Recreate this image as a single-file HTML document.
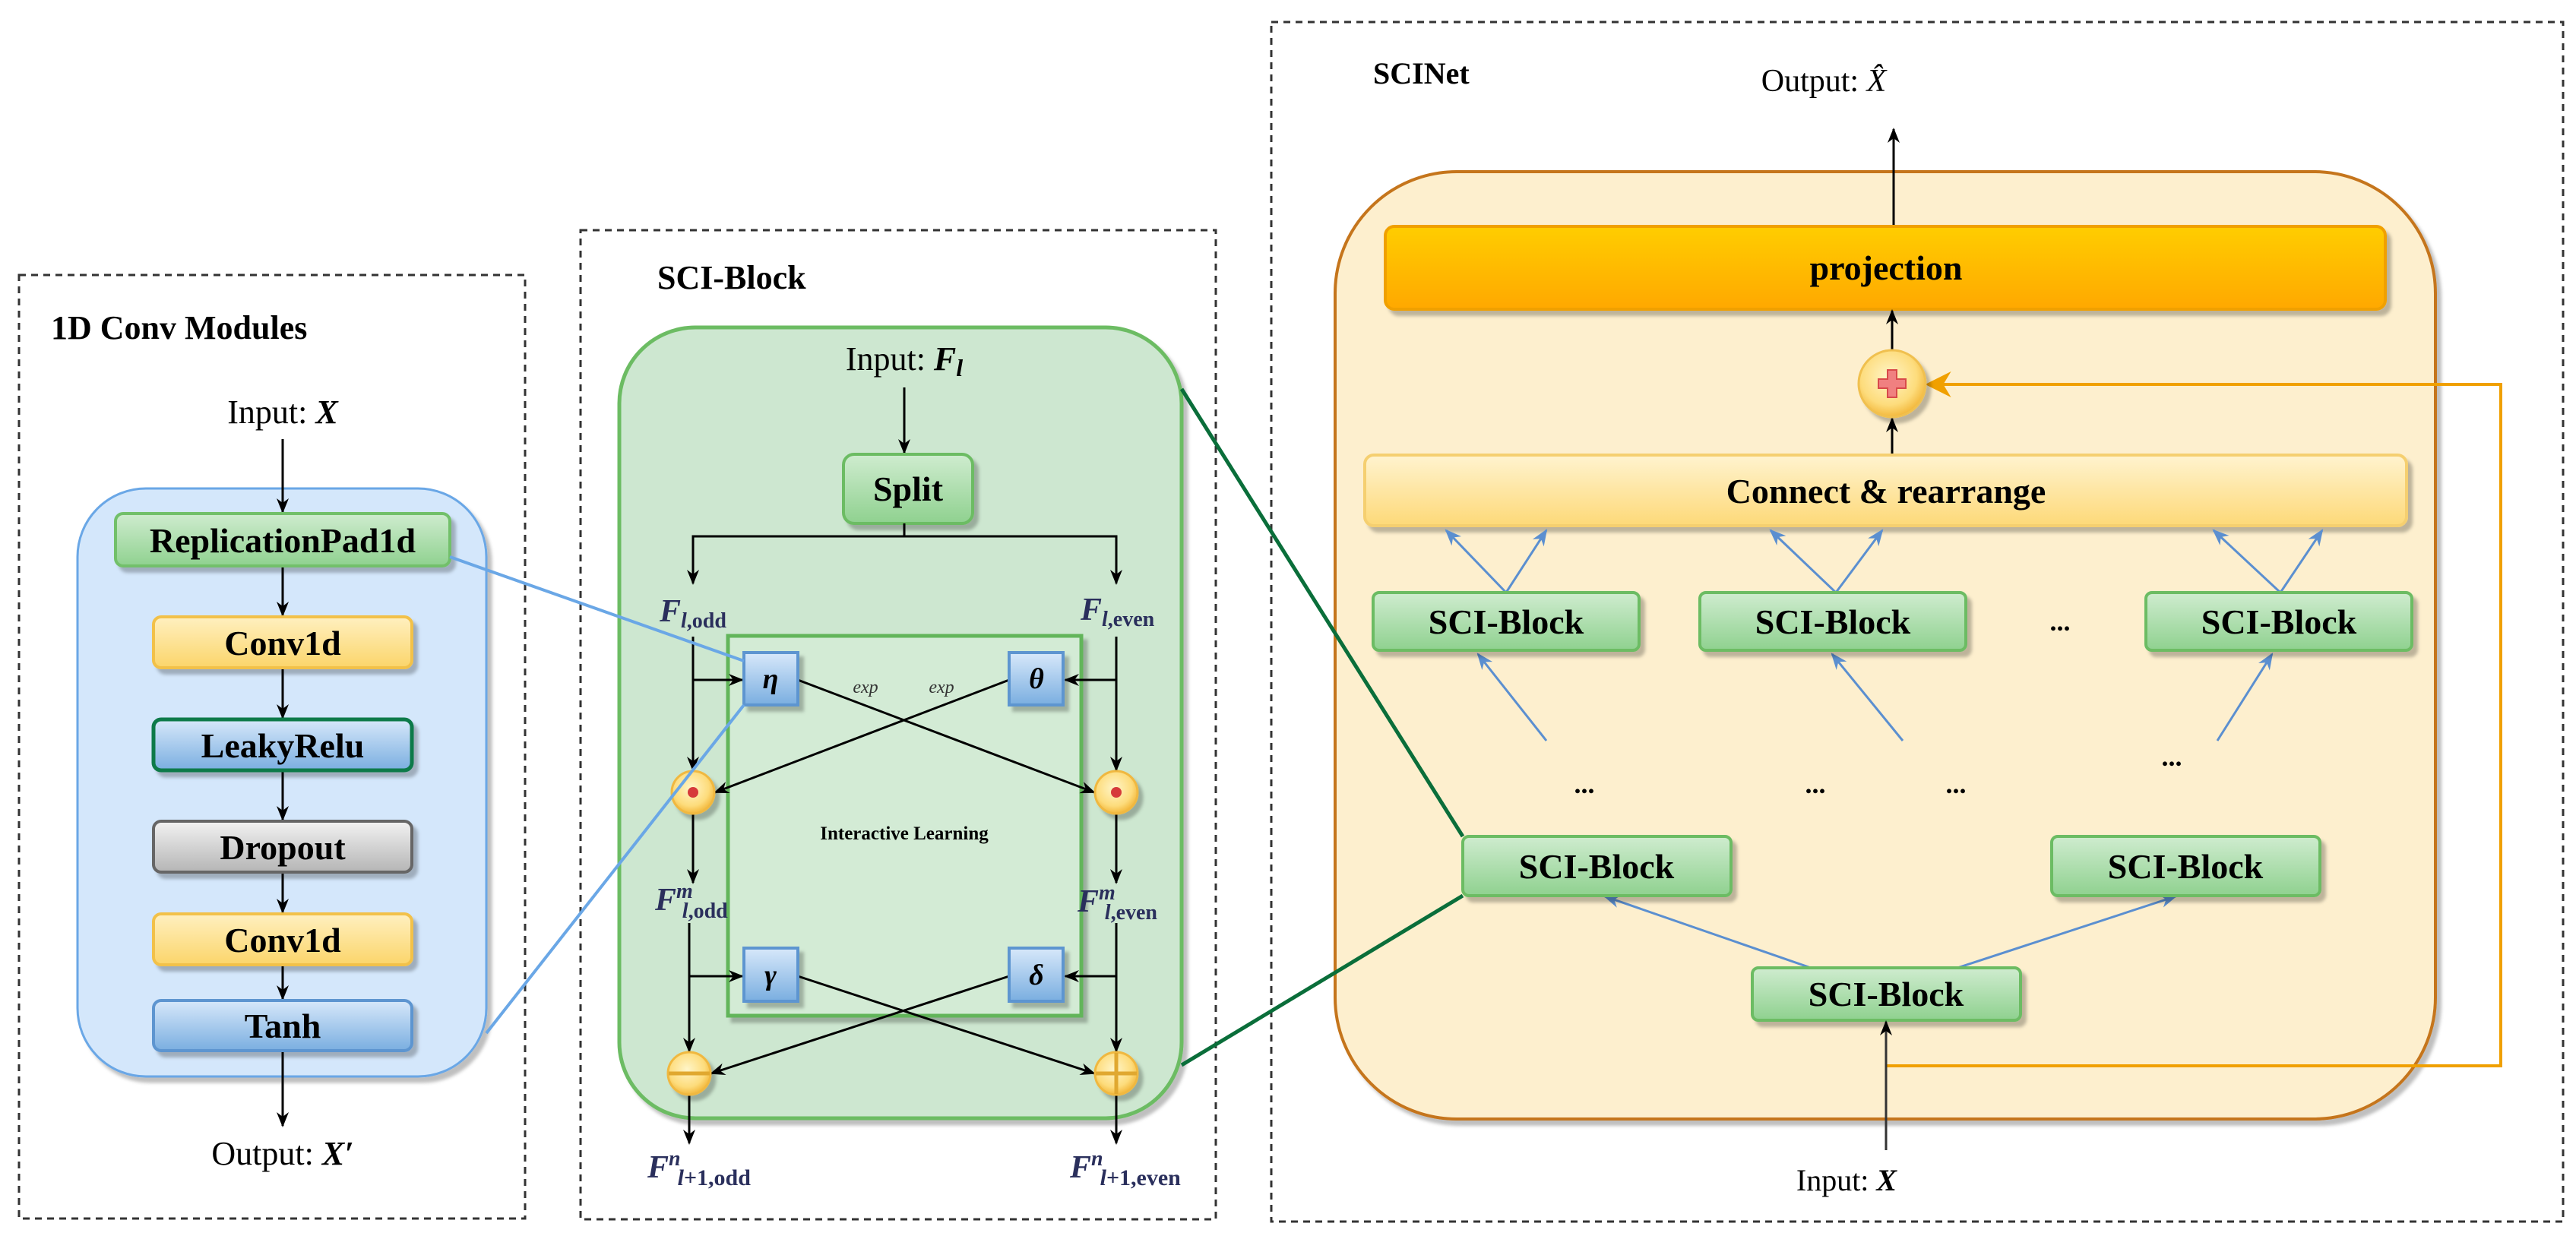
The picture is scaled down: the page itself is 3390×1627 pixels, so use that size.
<!DOCTYPE html>
<html><head><meta charset="utf-8"><style>
html,body{margin:0;padding:0;background:#fff}
svg{display:block}
text{font-family:"Liberation Serif",serif}
.b{font-weight:bold}
.lab{fill:#2a2f5c;font-style:italic;font-weight:bold}
.n{font-style:normal}
</style></head><body>
<svg width="3390" height="1627" viewBox="0 0 3390 1627" xmlns="http://www.w3.org/2000/svg">
<defs>
<linearGradient id="gG" x1="0" y1="0" x2="0" y2="1"><stop offset="0" stop-color="#cfeccf"/><stop offset="1" stop-color="#8fd18f"/></linearGradient>
<linearGradient id="gY" x1="0" y1="0" x2="0" y2="1"><stop offset="0" stop-color="#fff0c0"/><stop offset="1" stop-color="#fbd56a"/></linearGradient>
<linearGradient id="gB" x1="0" y1="0" x2="0" y2="1"><stop offset="0" stop-color="#d7e8fa"/><stop offset="1" stop-color="#7aaee0"/></linearGradient>
<linearGradient id="gD" x1="0" y1="0" x2="0" y2="1"><stop offset="0" stop-color="#f2f2f2"/><stop offset="1" stop-color="#b5b5b5"/></linearGradient>
<linearGradient id="gP" x1="0" y1="0" x2="0" y2="1"><stop offset="0" stop-color="#ffcd00"/><stop offset="1" stop-color="#ffa800"/></linearGradient>
<linearGradient id="gC" x1="0" y1="0" x2="0" y2="1"><stop offset="0" stop-color="#fff3cf"/><stop offset="1" stop-color="#fdd978"/></linearGradient>
<radialGradient id="gO" cx="0.45" cy="0.4" r="0.6"><stop offset="0" stop-color="#fff5c8"/><stop offset="0.7" stop-color="#fddc7c"/><stop offset="1" stop-color="#f3b83c"/></radialGradient>
<marker id="a" viewBox="0 0 10 10" refX="9" refY="5" markerWidth="20" markerHeight="20" orient="auto" markerUnits="userSpaceOnUse"><path d="M0,1 L10,5 L0,9 L3,5z" fill="#000"/></marker>
<marker id="ab" viewBox="0 0 10 10" refX="9" refY="5" markerWidth="22" markerHeight="22" orient="auto" markerUnits="userSpaceOnUse"><path d="M0,1 L10,5 L0,9 L3,5z" fill="#5b8fd0"/></marker>
<marker id="ao" viewBox="0 0 10 10" refX="9" refY="5" markerWidth="34" markerHeight="34" orient="auto" markerUnits="userSpaceOnUse"><path d="M0,0 L10,5 L0,10 L3,5z" fill="#f0a000"/></marker>
<filter id="sh" x="-10%" y="-10%" width="130%" height="140%"><feDropShadow dx="6" dy="7" stdDeviation="2" flood-color="#000" flood-opacity="0.25"/></filter>
</defs>

<!-- ============ Panel 1 ============ -->
<rect x="25" y="362" width="666" height="1242" fill="none" stroke="#333" stroke-width="3" stroke-dasharray="9,7"/>
<text x="67" y="446" class="b" font-size="44">1D Conv Modules</text>
<text x="372" y="557" font-size="44" text-anchor="middle">Input: <tspan font-style="italic" font-weight="bold">X</tspan></text>
<rect x="102" y="643" width="538" height="774" rx="90" fill="#d4e7fb" stroke="#6aa7e6" stroke-width="3" filter="url(#sh)"/>
<g stroke="#000" stroke-width="3">
<line x1="372" y1="578" x2="372" y2="674" marker-end="url(#a)"/>
<line x1="372" y1="745" x2="372" y2="810" marker-end="url(#a)"/>
<line x1="372" y1="879" x2="372" y2="945" marker-end="url(#a)"/>
<line x1="372" y1="1014" x2="372" y2="1079" marker-end="url(#a)"/>
<line x1="372" y1="1148" x2="372" y2="1201" marker-end="url(#a)"/>
<line x1="372" y1="1270" x2="372" y2="1315" marker-end="url(#a)"/>
<line x1="372" y1="1383" x2="372" y2="1482" marker-end="url(#a)"/>
</g>
<g filter="url(#sh)">
<rect x="152" y="676" width="440" height="69" rx="10" fill="url(#gG)" stroke="#72c06a" stroke-width="4"/>
<rect x="202" y="812" width="340" height="67" rx="10" fill="url(#gY)" stroke="#f2c14a" stroke-width="4"/>
<rect x="202" y="947" width="340" height="67" rx="10" fill="url(#gB)" stroke="#0e7a4a" stroke-width="5"/>
<rect x="202" y="1081" width="340" height="67" rx="10" fill="url(#gD)" stroke="#666" stroke-width="4"/>
<rect x="202" y="1203" width="340" height="67" rx="10" fill="url(#gY)" stroke="#f2c14a" stroke-width="4"/>
<rect x="202" y="1317" width="340" height="66" rx="10" fill="url(#gB)" stroke="#5d95d0" stroke-width="4"/>
</g>
<g class="b" font-size="46" text-anchor="middle">
<text x="372" y="727">ReplicationPad1d</text>
<text x="372" y="862">Conv1d</text>
<text x="372" y="997">LeakyRelu</text>
<text x="372" y="1131">Dropout</text>
<text x="372" y="1253">Conv1d</text>
<text x="372" y="1366">Tanh</text>
</g>
<text x="372" y="1533" font-size="44" text-anchor="middle">Output: <tspan font-style="italic" font-weight="bold">X′</tspan></text>

<!-- ============ Panel 2 ============ -->
<rect x="764" y="303" width="836" height="1302" fill="none" stroke="#333" stroke-width="3" stroke-dasharray="9,7"/>
<text x="865" y="380" class="b" font-size="44">SCI-Block</text>
<rect x="815" y="431" width="740" height="1041" rx="100" fill="#cde7d0" stroke="#6cbc63" stroke-width="5" filter="url(#sh)"/>
<text x="1190" y="487" font-size="44" text-anchor="middle">Input: <tspan font-style="italic" font-weight="bold">F<tspan font-size="32" dy="8">l</tspan></tspan></text>
<line x1="1190" y1="510" x2="1190" y2="596" stroke="#000" stroke-width="3" marker-end="url(#a)"/>
<rect x="1110" y="598" width="170" height="91" rx="14" fill="url(#gG)" stroke="#6cbc63" stroke-width="4" filter="url(#sh)"/>
<text x="1195" y="659" class="b" font-size="46" text-anchor="middle">Split</text>
<g stroke="#000" stroke-width="3" fill="none">
<polyline points="1190,689 1190,706 912,706 912,768" marker-end="url(#a)"/>
<polyline points="1190,706 1469,706 1469,768" marker-end="url(#a)"/>
</g>
<text x="868" y="818" class="lab" font-size="42">F<tspan font-size="28" dy="8">l</tspan><tspan class="n" font-size="28">,odd</tspan></text>
<text x="1422" y="816" class="lab" font-size="42">F<tspan font-size="28" dy="8">l</tspan><tspan class="n" font-size="28">,even</tspan></text>
<rect x="958" y="837" width="465" height="500" fill="#d3ebd5" stroke="#62b55a" stroke-width="5" filter="url(#sh)"/>
<text x="1190" y="1105" class="b" font-size="25" text-anchor="middle">Interactive Learning</text>
<text x="1139" y="912" font-size="24" font-style="italic" text-anchor="middle" fill="#333">exp</text>
<text x="1239" y="912" font-size="24" font-style="italic" text-anchor="middle" fill="#333">exp</text>
<g stroke="#000" stroke-width="3" fill="none">
<line x1="912" y1="838" x2="912" y2="1014" marker-end="url(#a)"/>
<line x1="1469" y1="838" x2="1469" y2="1014" marker-end="url(#a)"/>
<line x1="912" y1="895" x2="977" y2="895" marker-end="url(#a)"/>
<line x1="1469" y1="895" x2="1402" y2="895" marker-end="url(#a)"/>
<line x1="1050" y1="895" x2="1440" y2="1043" marker-end="url(#a)"/>
<line x1="1328" y1="895" x2="941" y2="1043" marker-end="url(#a)"/>
<line x1="912" y1="1071" x2="912" y2="1162" marker-end="url(#a)"/>
<line x1="1469" y1="1071" x2="1469" y2="1162" marker-end="url(#a)"/>
<line x1="907" y1="1215" x2="907" y2="1384" marker-end="url(#a)"/>
<line x1="1469" y1="1215" x2="1469" y2="1384" marker-end="url(#a)"/>
<line x1="907" y1="1285" x2="977" y2="1285" marker-end="url(#a)"/>
<line x1="1469" y1="1285" x2="1402" y2="1285" marker-end="url(#a)"/>
<line x1="1050" y1="1285" x2="1440" y2="1413" marker-end="url(#a)"/>
<line x1="1328" y1="1285" x2="936" y2="1413" marker-end="url(#a)"/>
<line x1="907" y1="1441" x2="907" y2="1505" marker-end="url(#a)"/>
<line x1="1469" y1="1441" x2="1469" y2="1505" marker-end="url(#a)"/>
</g>
<g filter="url(#sh)" stroke="#5d95d0" stroke-width="4" fill="url(#gB)">
<rect x="979" y="859" width="71" height="69"/>
<rect x="1328" y="859" width="71" height="69"/>
<rect x="979" y="1248" width="71" height="70"/>
<rect x="1328" y="1248" width="71" height="70"/>
</g>
<g class="b" font-size="38" font-style="italic" text-anchor="middle">
<text x="1014" y="906">η</text><text x="1364" y="906">θ</text>
<text x="1014" y="1296">γ</text><text x="1364" y="1296">δ</text>
</g>
<g filter="url(#sh)" fill="url(#gO)" stroke="#f0b840" stroke-width="3">
<circle cx="912" cy="1043" r="28"/><circle cx="1469" cy="1043" r="28"/>
<circle cx="907" cy="1413" r="28"/><circle cx="1469" cy="1413" r="28"/>
</g>
<circle cx="912" cy="1043" r="7" fill="#d63a3a"/><circle cx="1469" cy="1043" r="7" fill="#d63a3a"/>
<line x1="880" y1="1413" x2="934" y2="1413" stroke="#e0a830" stroke-width="5"/>
<line x1="1442" y1="1413" x2="1496" y2="1413" stroke="#e0a830" stroke-width="5"/>
<line x1="1469" y1="1386" x2="1469" y2="1440" stroke="#e0a830" stroke-width="5"/>
<text x="862" y="1198" class="lab" font-size="42">F<tspan font-size="28" dy="-16">m</tspan><tspan font-size="28" dy="26" dx="-14">l</tspan><tspan class="n" font-size="28">,odd</tspan></text>
<text x="1418" y="1200" class="lab" font-size="42">F<tspan font-size="28" dy="-16">m</tspan><tspan font-size="28" dy="26" dx="-14">l</tspan><tspan class="n" font-size="28">,even</tspan></text>
<text x="852" y="1550" class="lab" font-size="42">F<tspan font-size="28" dy="-16">n</tspan><tspan font-size="30" dy="26" dx="-4">l</tspan><tspan class="n" font-size="30">+1,odd</tspan></text>
<text x="1408" y="1550" class="lab" font-size="42">F<tspan font-size="28" dy="-16">n</tspan><tspan font-size="30" dy="26" dx="-4">l</tspan><tspan class="n" font-size="30">+1,even</tspan></text>

<!-- connectors blue -->
<g stroke="#6aa7e6" stroke-width="4" fill="none">
<line x1="592" y1="733" x2="979" y2="870"/>
<line x1="640" y1="1360" x2="979" y2="928"/>
</g>

<!-- ============ Panel 3 ============ -->
<rect x="1673" y="29" width="1700" height="1579" fill="none" stroke="#333" stroke-width="3" stroke-dasharray="9,7"/>
<text x="1807" y="110" class="b" font-size="40">SCINet</text>
<text x="2400" y="120" font-size="42" text-anchor="middle">Output: <tspan font-style="italic">X̂</tspan></text>
<rect x="1757" y="226" width="1448" height="1247" rx="160" fill="#fdefce" stroke="#c5741a" stroke-width="4" filter="url(#sh)"/>
<line x1="2492" y1="301" x2="2492" y2="170" stroke="#000" stroke-width="3" marker-end="url(#a)"/>
<rect x="1823" y="298" width="1316" height="109" rx="12" fill="url(#gP)" stroke="#f0a000" stroke-width="4" filter="url(#sh)"/>
<text x="2482" y="368" class="b" font-size="46" text-anchor="middle">projection</text>
<line x1="2490" y1="460" x2="2490" y2="409" stroke="#000" stroke-width="3" marker-end="url(#a)"/>
<line x1="2490" y1="597" x2="2490" y2="551" stroke="#000" stroke-width="3" marker-end="url(#a)"/>
<polyline points="2483,1403 3291,1403 3291,506 2537,506" fill="none" stroke="#f0a000" stroke-width="4" marker-end="url(#ao)"/>
<circle cx="2490" cy="505" r="44" fill="url(#gO)" stroke="#f0c050" stroke-width="3" filter="url(#sh)"/>
<path d="M2484,487 h12 v12 h12 v12 h-12 v12 h-12 v-12 h-12 v-12 h12z" fill="#f08080" stroke="#d84a4a" stroke-width="2"/>
<rect x="1796" y="599" width="1371" height="93" rx="12" fill="url(#gC)" stroke="#f5cf70" stroke-width="4" filter="url(#sh)"/>
<text x="2482" y="662" class="b" font-size="46" text-anchor="middle">Connect &amp; rearrange</text>

<g stroke="#5b8fd0" stroke-width="3" fill="none">
<line x1="1982" y1="780" x2="1903" y2="698" marker-end="url(#ab)"/>
<line x1="1982" y1="780" x2="2035" y2="698" marker-end="url(#ab)"/>
<line x1="2416" y1="780" x2="2330" y2="698" marker-end="url(#ab)"/>
<line x1="2416" y1="780" x2="2477" y2="698" marker-end="url(#ab)"/>
<line x1="3001" y1="780" x2="2913" y2="698" marker-end="url(#ab)"/>
<line x1="3001" y1="780" x2="3056" y2="698" marker-end="url(#ab)"/>
<line x1="2035" y1="975" x2="1945" y2="861" marker-end="url(#ab)"/>
<line x1="2504" y1="975" x2="2411" y2="861" marker-end="url(#ab)"/>
<line x1="2918" y1="975" x2="2990" y2="861" marker-end="url(#ab)"/>
<line x1="2383" y1="1274" x2="2112" y2="1180" marker-end="url(#ab)"/>
<line x1="2576" y1="1274" x2="2863" y2="1180" marker-end="url(#ab)"/>
</g>
<g filter="url(#sh)" fill="url(#gG)" stroke="#6cbc63" stroke-width="4">
<rect x="1807" y="780" width="350" height="76" rx="8"/>
<rect x="2237" y="780" width="350" height="76" rx="8"/>
<rect x="2824" y="780" width="350" height="76" rx="8"/>
<rect x="1925" y="1101" width="353" height="78" rx="8"/>
<rect x="2700" y="1101" width="353" height="78" rx="8"/>
<rect x="2306" y="1274" width="353" height="69" rx="8"/>
</g>
<g class="b" font-size="46" text-anchor="middle">
<text x="1982" y="834">SCI-Block</text>
<text x="2412" y="834">SCI-Block</text>
<text x="2999" y="834">SCI-Block</text>
<text x="2101" y="1156">SCI-Block</text>
<text x="2876" y="1156">SCI-Block</text>
<text x="2482" y="1324">SCI-Block</text>
</g>
<g font-size="36" class="b" text-anchor="middle">
<text x="2711" y="830">...</text>
<text x="2085" y="1044">...</text>
<text x="2389" y="1044">...</text>
<text x="2574" y="1044">...</text>
<text x="2858" y="1008">...</text>
</g>
<line x1="2482" y1="1514" x2="2482" y2="1345" stroke="#333" stroke-width="3" marker-end="url(#a)"/>
<text x="2430" y="1567" font-size="40" text-anchor="middle">Input: <tspan font-style="italic" font-weight="bold">X</tspan></text>

<!-- green connectors -->
<g stroke="#0a6e3a" stroke-width="5" fill="none">
<line x1="1555" y1="512" x2="1925" y2="1101"/>
<line x1="1555" y1="1402" x2="1925" y2="1179"/>
</g>
</svg>
</body></html>
